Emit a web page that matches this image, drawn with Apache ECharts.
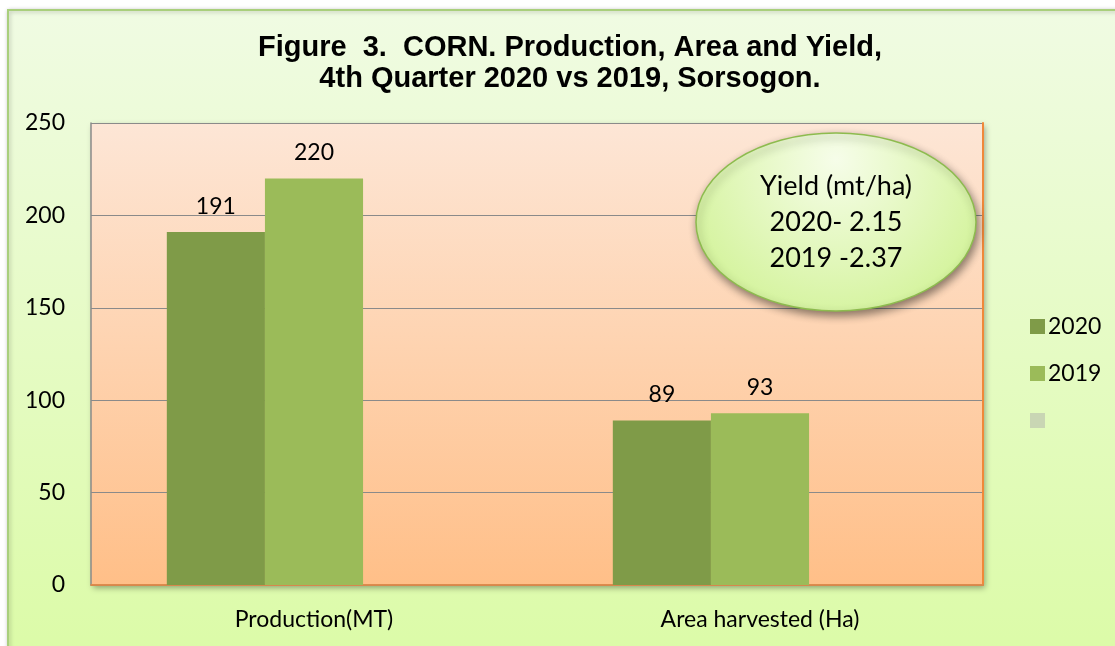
<!DOCTYPE html>
<html>
<head>
<meta charset="utf-8">
<script src="https://cdn.jsdelivr.net/npm/echarts@6/dist/echarts.min.js"></script>
<style>
  html, body { margin: 0; padding: 0; background: #fff; }
  #chart { width: 1115px; height: 646px; }
</style>
</head>
<body>
<div id="chart"></div>
<script>
// data
var categories = ['Production(MT)', 'Area harvested (Ha)'];
var seriesNames = ['2020', '2019'];
var values2020 = [191, 89];
var values2019 = [220, 93];
var yTicks = [0, 50, 100, 150, 200, 250];
var yieldNote = ['Yield (mt/ha)', '2020- 2.15', '2019 -2.37'];

var font = 'Lato, "Open Sans", sans-serif';
var chart = echarts.init(document.getElementById('chart'));

var labelStyle = {
  show: true,
  position: 'top',
  distance: 14,
  color: '#000',
  fontSize: 23,
  fontFamily: font
};

var option = {
  backgroundColor: '#fff',
  animation: false,
  textStyle: { fontFamily: font },
  title: {
    text: 'Figure  3.  CORN. Production, Area and Yield,\n4th Quarter 2020 vs 2019, Sorsogon.',
    left: 565,
    top: 27,
    textAlign: 'center',
    textStyle: {
      fontFamily: '"Liberation Sans", Arial, sans-serif',
      fontWeight: 'bold',
      fontSize: 29,
      lineHeight: 31,
      color: '#000'
    }
  },
  legend: {
    orient: 'vertical',
    left: 1025,
    top: 310,
    itemWidth: 15,
    itemHeight: 15,
    itemGap: 24,
    icon: 'rect',
    data: ['2020', '2019', ' '],
    textStyle: { fontSize: 23, color: '#000', fontFamily: font, padding: [0, 0, 0, -2] }
  },
  grid: {
    left: 91,
    top: 123,
    right: 132,
    bottom: 61,
    show: true,
    borderWidth: 0,
    backgroundColor: new echarts.graphic.LinearGradient(0, 0, 0, 1, [
      { offset: 0, color: '#fde6d6' },
      { offset: 1, color: '#ffbf88' }
    ]),
    shadowColor: 'rgba(0,0,0,0.35)',
    shadowBlur: 6,
    shadowOffsetX: 2,
    shadowOffsetY: 3
  },
  xAxis: [{
    type: 'category',
    data: categories,
    axisLine: { lineStyle: { color: '#8a8a8a', width: 1.5 } },
    axisTick: { show: false },
    axisLabel: { fontSize: 23, color: '#000', margin: 23, fontFamily: font }
  }, {
    type: 'category',
    position: 'top',
    data: categories,
    axisLine: { lineStyle: { color: '#f0883a', width: 1.5 } },
    axisTick: { show: false },
    axisLabel: { show: false }
  }],
  yAxis: [{
    type: 'value',
    min: yTicks[0],
    max: yTicks[yTicks.length - 1],
    interval: 50,
    axisLine: { show: true, lineStyle: { color: '#8a8a8a', width: 1.5 } },
    axisTick: { show: false },
    axisLabel: { fontSize: 23, color: '#000', margin: 26, fontFamily: font },
    splitLine: { lineStyle: { color: '#8a8a8a', width: 1.2 } }
  }, {
    type: 'value',
    position: 'right',
    min: yTicks[0],
    max: yTicks[yTicks.length - 1],
    interval: 50,
    axisLine: { show: true, lineStyle: { color: '#f0883a', width: 2 } },
    axisTick: { show: false },
    axisLabel: { show: false },
    splitLine: { show: false }
  }],
  series: [{
    name: seriesNames[0],
    type: 'bar',
    data: values2020,
    barWidth: '22%',
    barGap: '0%',
    itemStyle: { color: '#7f9b48' },
    label: labelStyle
  }, {
    name: seriesNames[1],
    type: 'bar',
    data: values2019,
    barWidth: '22%',
    barGap: '0%',
    itemStyle: { color: '#9bbb59' },
    label: labelStyle
  }, {
    // empty third series: keeps its slot in each group, as in the original
    name: ' ',
    type: 'bar',
    data: [],
    barWidth: '22%',
    barGap: '0%',
    itemStyle: { color: '#c9d6b4' }
  }],
  graphic: [{
    type: 'rect',
    z: -10,
    shape: { x: 8, y: 10, width: 1130, height: 660 },
    style: {
      fill: new echarts.graphic.LinearGradient(0, 0, 0, 1, [
        { offset: 0, color: '#f0fbe3' },
        { offset: 1, color: '#dbfba6' }
      ]),
      stroke: '#a9cf7c',
      lineWidth: 2,
      shadowColor: 'rgba(0,0,0,0.25)',
      shadowBlur: 4,
      shadowOffsetX: 1,
      shadowOffsetY: 1
    }
  }, {
    type: 'ellipse',
    z: 100,
    shape: { cx: 836, cy: 222, rx: 140, ry: 89 },
    style: {
      fill: new echarts.graphic.RadialGradient(0.5, 0.15, 0.95, [
        { offset: 0, color: '#f6fde9' },
        { offset: 1, color: '#d3f39a' }
      ]),
      stroke: '#8dbb4e',
      lineWidth: 1.5,
      shadowColor: 'rgba(0,0,0,0.45)',
      shadowBlur: 8,
      shadowOffsetX: 2,
      shadowOffsetY: 4
    }
  }, {
    type: 'text',
    z: 101,
    x: 836,
    y: 222,
    style: {
      text: yieldNote.join('\n'),
      align: 'center',
      verticalAlign: 'middle',
      fontSize: 27,
      lineHeight: 36,
      fontFamily: font,
      fill: '#000'
    }
  }]
};

chart.setOption(option);
</script>
</body>
</html>
